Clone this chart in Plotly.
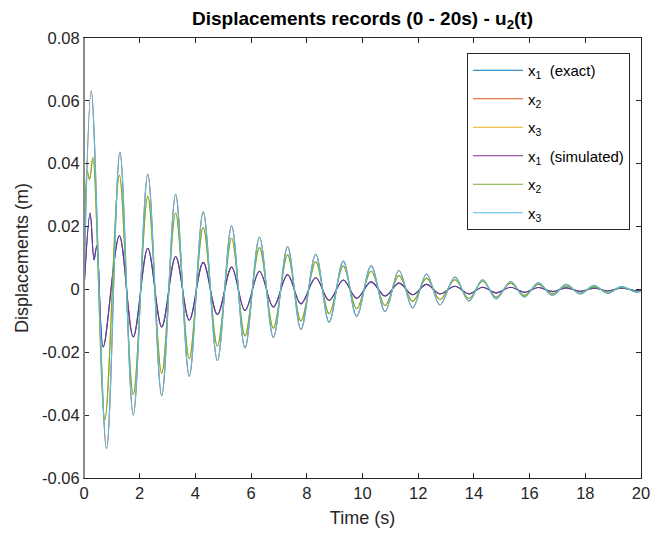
import plotly.graph_objects as go

# ---- data (extrema of each damped record) ----
t_large = [0, 0.26, 0.81, 1.29, 1.77, 2.29, 2.79, 3.29, 3.78, 4.28, 4.79, 5.30, 5.78, 6.30, 6.80,
           7.31, 7.79, 8.32, 8.80, 9.31, 9.79, 10.31, 10.81, 11.31, 11.80, 12.30, 12.78, 13.32,
           13.82, 14.31, 14.80, 15.32, 15.81, 16.31, 16.82, 17.31, 17.81, 18.31, 18.80, 19.29,
           19.80, 20.0]
u_large = [0, 0.0632, -0.0507, 0.0437, -0.0400, 0.0366, -0.0338, 0.0303, -0.0277, 0.0247, -0.0226,
           0.0202, -0.0186, 0.0166, -0.0153, 0.0136, -0.0127, 0.0112, -0.0104, 0.0090, -0.0085,
           0.0075, -0.0070, 0.0060, -0.0059, 0.0049, -0.0049, 0.0039, -0.0037, 0.0031, -0.0030,
           0.0025, -0.0024, 0.0021, -0.0019, 0.0016, -0.0014, 0.0012, -0.0012, 0.0009, -0.0008,
           -0.0006]

t_mid = [0, 0.12, 0.20, 0.32, 0.75, 1.27, 1.77, 2.29, 2.79, 3.29, 3.78, 4.28, 4.79, 5.30, 5.78,
         6.30, 6.80, 7.31, 7.79, 8.32, 8.80, 9.31, 9.79, 10.31, 10.81, 11.31, 11.80, 12.30, 12.78,
         13.32, 13.82, 14.31, 14.80, 15.32, 15.81, 16.31, 16.82, 17.31, 17.81, 18.31, 18.80, 19.29,
         19.80, 20.0]
u_mid = [0, 0.0375, 0.0350, 0.0420, -0.0415, 0.0363, -0.0334, 0.0296, -0.0267, 0.0243, -0.0220,
         0.0197, -0.0180, 0.0163, -0.0148, 0.0133, -0.0123, 0.0110, -0.0100, 0.0088, -0.0077,
         0.0074, -0.0061, 0.0058, -0.0051, 0.0044, -0.0038, 0.0036, -0.0032, 0.0031, -0.0029,
         0.0026, -0.0024, 0.0020, -0.0019, 0.0016, -0.0014, 0.0011, -0.0012, 0.0008, -0.0009,
         0.0006, -0.0007, -0.0005]

t_small = [0, 0.22, 0.36, 0.46, 0.69, 1.27, 1.77, 2.29, 2.79, 3.29, 3.78, 4.28, 4.79, 5.30, 5.78,
           6.30, 6.80, 7.31, 7.79, 8.32, 8.80, 9.31, 9.79, 10.31, 10.81, 11.31, 11.80, 12.30, 12.78,
           13.32, 13.82, 14.31, 14.80, 15.32, 15.81, 16.31, 16.82, 17.31, 17.81, 18.31, 18.80,
           19.29, 19.80, 20.0]
u_small = [0, 0.0243, 0.0094, 0.0139, -0.0183, 0.0171, -0.0151, 0.0131, -0.0119, 0.0105, -0.0098,
           0.0086, -0.0080, 0.0071, -0.0067, 0.0058, -0.0056, 0.0047, -0.0046, 0.0037, -0.0035,
           0.0030, -0.0028, 0.0024, -0.0021, 0.0020, -0.0017, 0.0016, -0.0014, 0.0010, -0.0014,
           0.0007, -0.0011, 0.0007, -0.0009, 0.0006, -0.0007, 0.0005, -0.0006, 0.0004, -0.0005,
           0.0004, -0.0004, -0.0003]

series_names = ["x<sub>1</sub>  (exact)", "x<sub>2</sub>", "x<sub>3</sub>",
                "x<sub>1</sub>  (simulated)", "x<sub>2</sub>", "x<sub>3</sub>"]
series_t = [t_small, t_large, t_mid, t_small, t_mid, t_large]
series_u = [u_small, u_large, u_mid, u_small, u_mid, u_large]
colors = ["#0072BD", "#D95319", "#EDB120", "#7E2F8E", "#77AC30", "#4DBEEE"]

x_ticks = [0, 2, 4, 6, 8, 10, 12, 14, 16, 18, 20]
y_ticks = [-0.06, -0.04, -0.02, 0, 0.02, 0.04, 0.06, 0.08]
y_tick_text = ["-0.06", "-0.04", "-0.02", "0", "0.02", "0.04", "0.06", "0.08"]

FONT = "Liberation Sans, Arial, Helvetica, sans-serif"
INK = "#262626"

fig = go.Figure()
for i, (name, tt, uu, c) in enumerate(zip(series_names, series_t, series_u, colors)):
    fig.add_trace(go.Scatter(x=tt, y=uu, mode="lines", name=name, legendgroup=f"g{i}",
                             line=dict(color=c, width=1.1, shape="spline", smoothing=1.0)))

fig.update_layout(
    width=668, height=536,
    margin=dict(l=84, r=27, t=38, b=56),
    paper_bgcolor="white", plot_bgcolor="white",
    font=dict(family=FONT, size=16, color=INK),
    title=dict(text="<b>Displacements records (0 - 20s) - u<sub>2</sub>(t)</b>",
               x=0.5, xref="paper", xanchor="center",
               y=1 - 18 / 536, yref="container", yanchor="middle",
               font=dict(family=FONT, size=19, color="black")),
    showlegend=True,
    legend=dict(x=0.6876, y=0.966, xanchor="left", yanchor="top",
                bgcolor="white", bordercolor=INK, borderwidth=1,
                font=dict(family=FONT, size=15, color="black"),
                itemwidth=50, tracegroupgap=6, traceorder="grouped"),
    shapes=[dict(type="line", xref="paper", yref="paper", x0=0, x1=0, y0=0, y1=1,
                 line=dict(color="#8c8c8c", width=2), layer="above")],
)
fig.update_xaxes(range=[0, 20], tickvals=x_ticks, ticks="inside", ticklen=5, tickcolor=INK,
                 showline=True, linecolor=INK, linewidth=1, mirror="ticks",
                 showgrid=False, zeroline=False,
                 title=dict(text="Time (s)", font=dict(size=18, color=INK), standoff=10),
                 tickfont=dict(size=16.5, color=INK))
fig.update_yaxes(range=[-0.06, 0.08], tickvals=y_ticks, ticktext=y_tick_text,
                 ticks="inside", ticklen=5, tickcolor=INK,
                 showline=True, linecolor=INK, linewidth=1, mirror="ticks",
                 showgrid=False, zeroline=False,
                 title=dict(text="Displacements (m)", font=dict(size=18, color=INK), standoff=8),
                 tickfont=dict(size=16.5, color=INK))

fig.write_html("out.html")
